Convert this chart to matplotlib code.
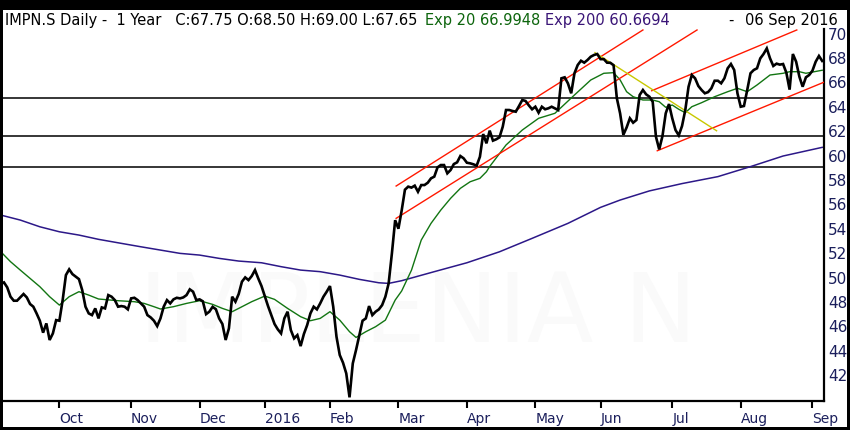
import pandas as pd
import matplotlib
matplotlib.use("Agg")
import matplotlib.pyplot as plt
from matplotlib.patches import Rectangle

# -----------------------------
# data (1 year to 06 Sep 2016)
# -----------------------------
start_date = "2015-09-07"
end_date = "2016-09-06"
# SIX Swiss Exchange closing days inside the window
exchange_holidays = ["2015-12-24", "2015-12-25", "2015-12-31", "2016-01-01",
                     "2016-03-25", "2016-03-28", "2016-05-05", "2016-05-16",
                     "2016-08-01"]

# daily close, one value per trading session
close = [
    49.47, 49.60, 49.19, 48.43, 48.10, 48.10, 48.37, 48.65, 48.37, 47.83,
    47.61, 47.06, 46.46, 45.48, 46.24, 44.88, 45.42, 46.51, 46.46, 48.15,
    50.20, 50.67, 50.28, 50.07, 49.87, 48.97, 47.61, 47.06, 46.92, 47.47,
    46.65, 47.55, 47.47, 48.56, 48.43, 48.15, 47.61, 47.66, 47.61, 47.39,
    48.29, 48.34, 48.15, 47.88, 47.61, 46.92, 46.73, 46.46, 46.02, 46.65,
    47.61, 48.15, 47.88, 48.21, 48.34, 48.29, 48.37, 48.56, 49.03, 48.84,
    48.15, 48.21, 48.05, 47.00, 47.20, 47.60, 47.40, 46.65, 46.19, 44.88,
    45.83, 48.43, 48.02, 48.65, 49.66, 50.01, 49.79, 50.12, 50.61, 49.93,
    49.30, 48.48, 47.66, 46.92, 46.19, 45.75, 45.42, 46.65, 47.20, 45.69,
    45.01, 45.28, 44.38, 45.37, 46.10, 47.06, 47.61, 47.39, 47.88, 48.43,
    48.84, 49.30, 47.61, 45.15, 43.65, 43.02, 42.14, 40.18, 42.96, 44.06,
    45.28, 46.46, 46.65, 47.66, 46.92, 47.20, 47.39, 47.74, 48.43, 49.52,
    51.98, 54.70, 54.00, 55.50, 57.20, 57.45, 57.37, 57.53, 57.03, 57.58,
    57.58, 57.77, 58.13, 58.27, 59.03, 59.22, 59.22, 58.54, 58.81, 59.30,
    59.44, 59.96, 59.77, 59.41, 59.36, 59.28, 59.17, 59.90, 61.76, 61.00,
    62.04, 61.22, 61.33, 61.49, 62.36, 63.73, 63.73, 63.65, 63.59, 64.06,
    64.55, 64.47, 64.11, 63.79, 64.00, 63.51, 64.00, 63.79, 63.87, 64.00,
    63.87, 63.73, 66.33, 66.41, 65.91, 65.10, 66.74, 67.42, 67.77, 67.61,
    67.83, 68.10, 68.24, 68.32, 67.90, 67.90, 67.61, 67.60, 67.40, 64.70,
    63.46, 61.70, 62.30, 63.05, 62.69, 62.91, 64.96, 65.37, 65.01, 64.82,
    64.41, 61.54, 60.50, 61.60, 63.46, 64.22, 63.05, 62.09, 61.65, 62.42,
    63.73, 65.64, 66.60, 66.33, 65.70, 65.37, 65.10, 65.20, 65.51, 66.13,
    66.13, 65.92, 66.33, 67.15, 67.50, 67.01, 65.10, 64.00, 64.06, 65.37,
    66.74, 67.01, 67.15, 67.96, 68.32, 68.78, 67.96, 67.34, 67.53, 67.45,
    67.50, 66.79, 65.40, 68.32, 67.69, 66.46, 65.64, 66.41, 66.60, 66.95,
    67.69, 68.16, 67.75,
]

# exponential averages, read at session numbers (0 = 07 Sep 2015)
ema20_bar = [0, 3, 6, 9, 12, 15, 18, 21, 24, 27, 30, 36, 41, 44, 47, 49, 53,
             57, 61, 65, 68, 71, 73, 77, 81, 84, 88, 92, 95, 98, 101, 104, 107,
             109, 112, 115, 118, 121, 123, 126, 129, 132, 135, 138, 141, 144,
             147, 149, 150, 155, 160, 165, 170, 176, 181, 185, 188, 190, 192,
             194, 197, 200, 202, 204, 206, 208, 210, 212, 215, 219, 223, 226,
             229, 232, 236, 240, 242, 245, 247, 252]
ema20_val = [52.12, 51.30, 50.61, 49.93, 49.25, 48.43, 47.74, 48.43, 48.84,
             48.56, 48.24, 48.10, 48.02, 47.88, 47.61, 47.42, 47.61, 47.88,
             48.10, 47.80, 47.47, 47.20, 47.47, 48.02, 48.48, 48.21, 47.47,
             46.79, 46.46, 46.65, 47.20, 46.51, 45.56, 45.09, 45.56, 45.97,
             46.51, 48.15, 48.90, 50.60, 53.07, 54.44, 55.53, 56.49, 57.31,
             57.85, 58.13, 58.67, 59.10, 60.86, 62.09, 63.05, 63.46, 64.96,
             66.19, 66.74, 66.79, 66.20, 65.23, 64.82, 64.55, 64.55, 64.41,
             63.95, 64.14, 63.79, 63.51, 64.00, 64.33, 64.82, 65.23, 65.51,
             65.23, 65.78, 66.60, 66.74, 66.87, 66.87, 66.74, 66.99]

ema200_bar = [0, 6, 12, 18, 24, 30, 37, 43, 49, 55, 61, 67, 73, 80, 86, 92, 98,
              104, 110, 116, 119, 123, 133, 143, 153, 163, 174, 184, 190, 199,
              209, 220, 230, 240, 252]
ema200_val = [55.12, 54.71, 54.16, 53.75, 53.48, 53.13, 52.80, 52.52, 52.25,
              51.98, 51.84, 51.57, 51.35, 51.21, 50.89, 50.61, 50.48, 50.20,
              49.85, 49.57, 49.52, 49.74, 50.48, 51.21, 52.11, 53.21, 54.44,
              55.75, 56.35, 57.10, 57.70, 58.27, 59.09, 59.96, 60.67]

# horizontal support / resistance levels
levels = [64.71, 61.62, 59.08]

# drawn trend lines: (start session, start price, end session, end price)
channel_lines = [
    (121.3, 57.50, 197.0, 70.29),
    (121.3, 54.85, 213.6, 70.29),
    (199.7, 65.31, 244.2, 70.29),
    (201.4, 60.39, 252.9, 66.05),
]
down_line = (182.3, 68.43, 219.6, 62.03)

header_main = "IMPN.S Daily -  1 Year   C:67.75 O:68.50 H:69.00 L:67.65"
header_ema20 = "Exp 20 66.9948"
header_ema200 = "Exp 200 60.6694"
header_date = "06 Sep 2016"

# -----------------------------
# trading calendar -> month ticks
# -----------------------------
sessions = pd.bdate_range(start_date, end_date, freq="C", holidays=exchange_holidays)
month_pos = []
month_lab = []
for i in range(1, len(sessions)):
    if sessions[i].month != sessions[i - 1].month:
        month_pos.append(i)
        if sessions[i].month == 1:
            month_lab.append(str(sessions[i].year))
        else:
            month_lab.append(sessions[i].strftime("%b"))

# -----------------------------
# plot
# -----------------------------
navy = "#1b1f5c"
fig = plt.figure(figsize=(8.5, 4.3), dpi=100, facecolor="white")
ax = fig.add_axes([3 / 850, 29 / 430, 821 / 850, 372 / 430])

# faint watermark
ax.text(0.505, 0.23, "IMPLENIA N", transform=ax.transAxes, ha="center",
        va="center", fontsize=70, color="#fafafa", zorder=0)

for lv in levels:
    ax.axhline(lv, color="black", lw=1.1, zorder=1)

ax.plot(ema200_bar, ema200_val, color="#2c1888", lw=1.1, zorder=2)
ax.plot(ema20_bar, ema20_val, color="#127512", lw=1.0, zorder=2)

for x0, y0, x1, y1 in channel_lines:
    ax.plot([x0, x1], [y0, y1], color="#ff1800", lw=1.0, zorder=3)
ax.plot([down_line[0], down_line[2]], [down_line[1], down_line[3]],
        color="#c8c800", lw=1.0, zorder=3)

ax.plot(range(len(close)), close, color="black", lw=1.9, zorder=4,
        solid_joinstyle="miter")

ax.set_xlim(0.7, 252.55)
ax.set_ylim(39.88, 70.37)

ax.yaxis.tick_right()
ax.set_yticks(range(42, 71, 2))
ax.tick_params(axis="y", length=0, pad=3, labelsize=11, labelcolor=navy)
ax.set_xticks(month_pos)
ax.set_xticklabels(month_lab, ha="left")
ax.tick_params(axis="x", direction="out", length=5, width=1.5, color="black",
               pad=3, labelsize=10, labelcolor=navy)

for side in ["top", "left"]:
    ax.spines[side].set_visible(False)
for side in ["bottom", "right"]:
    ax.spines[side].set_linewidth(1.6)
    ax.spines[side].set_color("black")

# header line
y_head = 1 - 20 / 430
fig.text(5 / 850, y_head, header_main, fontsize=10.5, color="black", va="center")
fig.text(425 / 850, y_head, header_ema20, fontsize=10.5, color="#0d650d", va="center")
fig.text(545 / 850, y_head, header_ema200, fontsize=10.5, color="#3a1577", va="center")
fig.text(728 / 850, y_head, "-", fontsize=10.5, color="black", va="center")
fig.text(838 / 850, y_head, header_date, fontsize=10.5, color="black", va="center",
         ha="right")

# black frame round the picture
fig.add_artist(Rectangle((0, 1 - 10 / 430), 1, 10 / 430, transform=fig.transFigure,
                         facecolor="black", edgecolor="none"))
fig.add_artist(Rectangle((0, 0), 3 / 850, 1, transform=fig.transFigure,
                         facecolor="black", edgecolor="none"))
fig.add_artist(Rectangle((847 / 850, 0), 3 / 850, 1, transform=fig.transFigure,
                         facecolor="black", edgecolor="none"))
fig.add_artist(Rectangle((0, 0), 1, 3 / 430, transform=fig.transFigure,
                         facecolor="black", edgecolor="none"))

fig.savefig("out.png", dpi=100, facecolor="white")
